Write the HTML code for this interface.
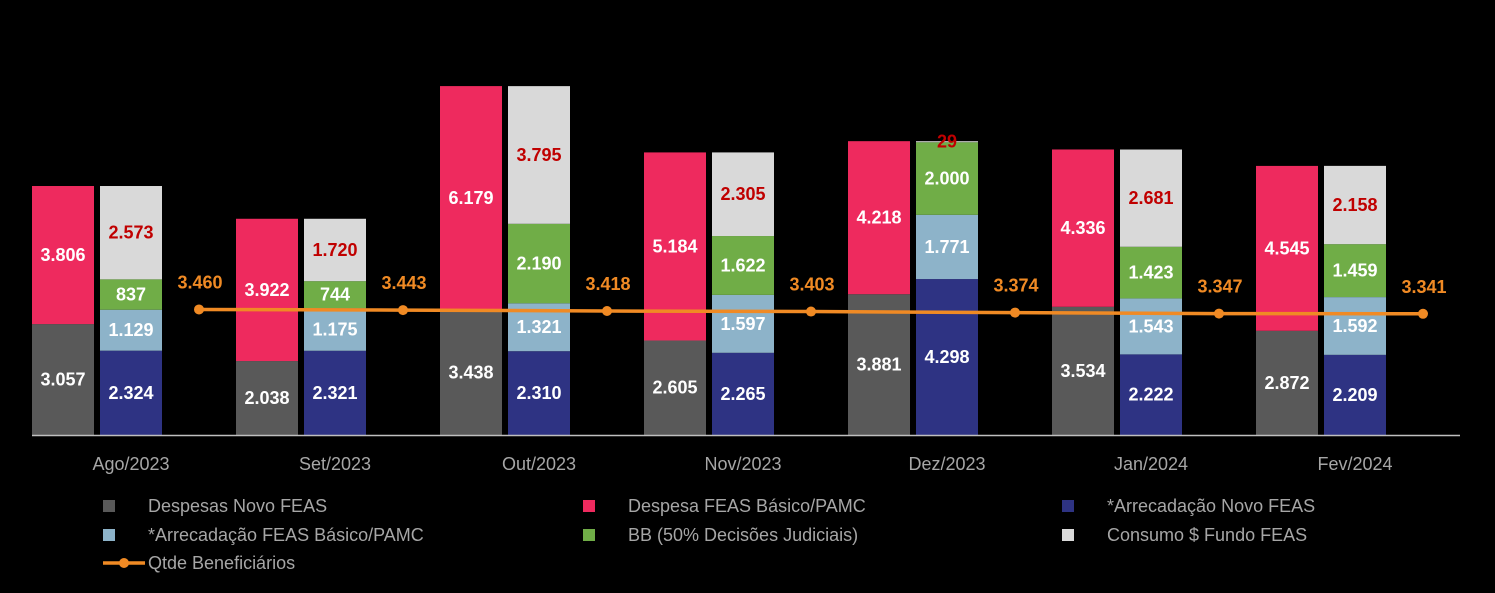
<!DOCTYPE html>
<html><head><meta charset="utf-8"><style>
html,body{margin:0;padding:0;background:#000;}
svg{display:block;font-family:"Liberation Sans",Arial,sans-serif;}
</style></head><body>
<svg id="chart" width="1495" height="593" viewBox="0 0 1495 593" xmlns="http://www.w3.org/2000/svg">
<rect width="1495" height="593" fill="#000"/>
<g id="bars"></g><g id="line"></g><g id="axis"></g><g id="legend"></g>
</svg>
<script>
const categories=["Ago/2023","Set/2023","Out/2023","Nov/2023","Dez/2023","Jan/2024","Fev/2024"];
const despesasNovo=[3057,2038,3438,2605,3881,3534,2872];
const despesaBasico=[3806,3922,6179,5184,4218,4336,4545];
const arrecNovo=[2324,2321,2310,2265,4298,2222,2209];
const arrecBasico=[1129,1175,1321,1597,1771,1543,1592];
const bbJudicial=[837,744,2190,1622,2000,1423,1459];
const consumoFundo=[2573,1720,3795,2305,29,2681,2158];
const qtdeBenef=[3460,3443,3418,3403,3374,3347,3341];

const NS="http://www.w3.org/2000/svg";
const base=435, k=0.03628, band=204, x0=29;
const y=v=>base-v*k;
const bandStart=i=>x0+i*band;
function el(t,a,p){const e=document.createElementNS(NS,t);for(const n in a)e.setAttribute(n,a[n]);p.appendChild(e);return e;}
const fmt=v=>v.toLocaleString('de-DE');
const gB=document.getElementById('bars'),gL=document.getElementById('line'),gA=document.getElementById('axis'),gG=document.getElementById('legend');
const stack1=[[despesasNovo,"#595959","#fff","despesas-novo-feas"],[despesaBasico,"#EE2A5E","#fff","despesa-feas-basico"]];
const stack2=[[arrecNovo,"#2E3383","#fff","arrecadacao-novo-feas"],[arrecBasico,"#8DB3C9","#fff","arrecadacao-feas-basico"],[bbJudicial,"#70AD47","#fff","bb-decisoes-judiciais"],[consumoFundo,"#D9D9D9","#C00000","consumo-fundo-feas"]];
categories.forEach((c,i)=>{
  [[stack1,bandStart(i)+3],[stack2,bandStart(i)+71]].forEach(([st,bx])=>{
    let acc=0;
    st.forEach(([arr,col,tc,nm])=>{
      const v=arr[i],top=y(acc+v),bot=y(acc);
      const r=el('rect',{x:bx,y:top,width:62,height:bot-top,fill:col},gB);
      
      
      const t=el('text',{x:bx+31,y:(top+bot)/2+6,'text-anchor':'middle','font-size':18,'font-weight':'bold',fill:tc},gB);
      
      
      t.textContent=fmt(v);
      acc+=v;
    });
  });
  const lt=el('text',{x:bandStart(i)+102,y:470,'text-anchor':'middle','font-size':18,fill:'#A6A6A6'},gA);
  
  
  lt.textContent=c;
});
const ax=el('line',{x1:32,x2:1460,y1:base+0.5,y2:base+0.5,stroke:'#BFBFBF','stroke-width':1.5},gA);


const px=i=>bandStart(i)+170;
const pl=el('polyline',{points:qtdeBenef.map((v,i)=>px(i)+','+y(v)).join(' '),fill:'none',stroke:'#F08A24','stroke-width':3.5},gL);


qtdeBenef.forEach((v,i)=>{
  const c=el('circle',{cx:px(i),cy:y(v),r:5,fill:'#F08A24'},gL);
  
  
  const t=el('text',{x:px(i)+1,y:y(v)-21,'text-anchor':'middle','font-size':18,'font-weight':'bold',fill:'#F08A24'},gL);
  
  
  t.textContent=fmt(v);
});
const leg=[["Despesas Novo FEAS","#595959",103,506],["Despesa FEAS Básico/PAMC","#EE2A5E",583,506],["*Arrecadação Novo FEAS","#2E3383",1062,506],["*Arrecadação FEAS Básico/PAMC","#8DB3C9",103,535],["BB (50% Decisões Judiciais)","#70AD47",583,535],["Consumo $ Fundo FEAS","#D9D9D9",1062,535]];
leg.forEach(([n,col,lx,ly])=>{
  const g=el('g',{},gG);
  
  
  el('rect',{x:lx,y:ly-6,width:12,height:12,fill:col},g);
  const t=el('text',{x:lx+45,y:ly+6,'font-size':18,fill:'#A6A6A6'},g);
  t.textContent=n;
});
const g=el('g',{},gG);


el('line',{x1:103,x2:145,y1:563,y2:563,stroke:'#F08A24','stroke-width':3.5},g);
el('circle',{cx:124,cy:563,r:5,fill:'#F08A24'},g);
const t=el('text',{x:148,y:569,'font-size':18,fill:'#A6A6A6'},g);
t.textContent="Qtde Beneficiários";
</script>
</body></html>
